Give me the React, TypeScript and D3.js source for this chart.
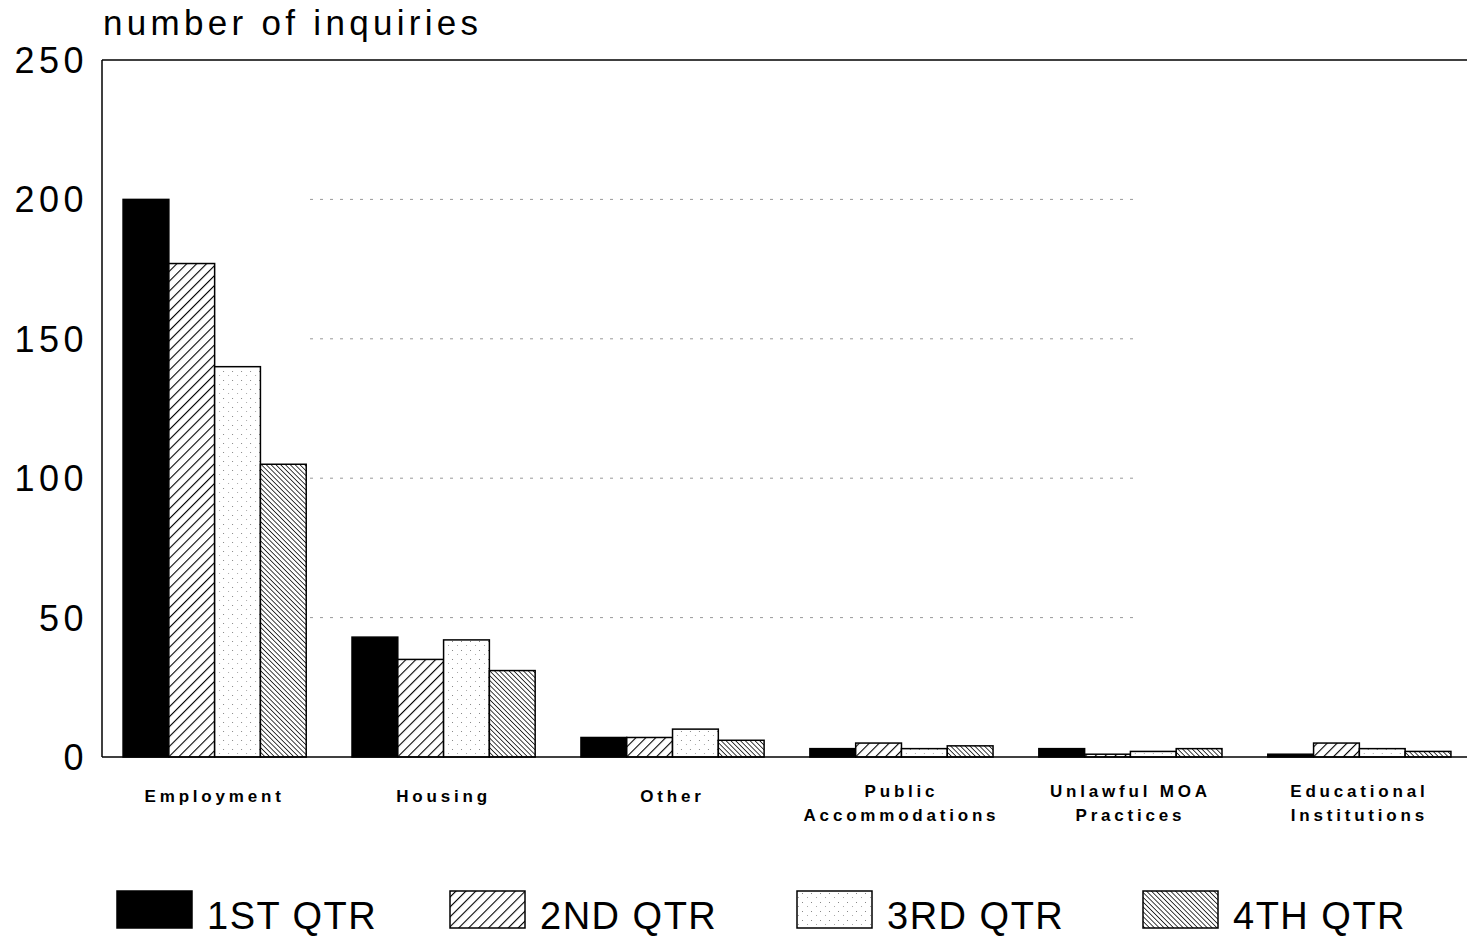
import React from "react";
import * as d3 from "d3";

const categories = [
  "Employment",
  "Housing",
  "Other",
  "Public Accommodations",
  "Unlawful MOA Practices",
  "Educational Institutions",
];
const categoryLines = [
  ["Employment"],
  ["Housing"],
  ["Other"],
  ["Public", "Accommodations"],
  ["Unlawful MOA", "Practices"],
  ["Educational", "Institutions"],
];
const seriesNames = ["1ST QTR", "2ND QTR", "3RD QTR", "4TH QTR"];
const q1 = [200, 43, 7, 3, 3, 1];
const q2 = [177, 35, 7, 5, 1, 5];
const q3 = [140, 42, 10, 3, 2, 3];
const q4 = [105, 31, 6, 4, 3, 2];
const yTicks = [0, 50, 100, 150, 200, 250];

const series = [q1, q2, q3, q4];
const fills = ["#000", "url(#hatchUp)", "url(#dots)", "url(#hatchDown)"];
// legend swatch left edges
const legendX = [117, 450, 797, 1143];

export default function App() {
  const W = 1467;
  const H = 937;
  const left = 102;
  const top = 60;
  const bottom = 757;

  const x = d3
    .scaleBand<string>()
    .domain(categories)
    .range([left, 1472])
    .paddingInner(0.2)
    .paddingOuter(0.092);
  const xs = d3
    .scaleBand<number>()
    .domain(d3.range(series.length))
    .range([0, x.bandwidth()]);
  const y = d3.scaleLinear().domain([0, 250]).range([bottom, top]);

  const font = "'Liberation Sans', Arial, Helvetica, sans-serif";

  return (
    <svg
      width={W}
      height={H}
      style={{ position: "absolute", left: 0, top: 0, background: "#fff" }}
    >
      <defs>
        <pattern id="hatchUp" width="7" height="7" patternUnits="userSpaceOnUse" patternTransform="rotate(45)">
          <rect width="7" height="7" fill="#fff" />
          <line x1="0" y1="0" x2="0" y2="7" stroke="#000" strokeWidth="2.2" />
        </pattern>
        <pattern id="hatchDown" width="3.4" height="3.4" patternUnits="userSpaceOnUse" patternTransform="rotate(-45)">
          <rect width="3.4" height="3.4" fill="#fff" />
          <line x1="0" y1="0" x2="0" y2="3.4" stroke="#000" strokeWidth="1.5" />
        </pattern>
        <pattern id="dots" width="9" height="9" patternUnits="userSpaceOnUse">
          <rect width="9" height="9" fill="#fff" />
          <rect x="1" y="2" width="1" height="1" fill="#888" />
          <rect x="6" y="6" width="1" height="1" fill="#aaa" />
        </pattern>
      </defs>

      {/* title */}
      <text x={103} y={35} fontFamily={font} fontSize={35} letterSpacing={4.3} fill="#000">
        number of inquiries
      </text>

      {/* grid */}
      {yTicks
        .filter((t) => t > 0 && t < 250)
        .map((t) => (
          <line
            key={"g" + t}
            x1={310}
            x2={1140}
            y1={y(t)}
            y2={y(t)}
            stroke="#999"
            strokeWidth={1}
            strokeDasharray="3,7"
          />
        ))}

      {/* y labels */}
      {yTicks.map((t) => (
        <text
          key={"y" + t}
          x={88}
          y={y(t) + 13}
          textAnchor="end"
          fontFamily={font}
          fontSize={36}
          letterSpacing={4.5}
          fill="#000"
        >
          {t}
        </text>
      ))}

      {/* bars */}
      {categories.map((c, i) => (
        <g key={c} transform={`translate(${x(c)},0)`}>
          {series.map((s, j) => (
            <rect
              key={j}
              x={xs(j)}
              y={y(s[i])}
              width={xs.bandwidth()}
              height={bottom - y(s[i])}
              fill={fills[j]}
              stroke="#000"
              strokeWidth={1.5}
            />
          ))}
        </g>
      ))}

      {/* axes frame */}
      <line x1={left} x2={left} y1={top} y2={bottom} stroke="#000" strokeWidth={1.5} />
      <line x1={left} x2={W} y1={top} y2={top} stroke="#000" strokeWidth={1.5} />
      <line x1={left} x2={W} y1={bottom} y2={bottom} stroke="#000" strokeWidth={1.5} />

      {/* category labels */}
      {categories.map((c, i) => {
        const lines = categoryLines[i];
        const cx = (x(c) as number) + x.bandwidth() / 2;
        const y0 = lines.length === 1 ? 802 : 797;
        return (
          <text
            key={"l" + c}
            x={cx}
            textAnchor="middle"
            fontFamily={font}
            fontWeight="bold"
            fontSize={17}
            letterSpacing={3.8}
            fill="#000"
          >
            {lines.map((l, k) => (
              <tspan key={k} x={cx} y={y0 + k * 24}>
                {l}
              </tspan>
            ))}
          </text>
        );
      })}

      {/* legend */}
      {seriesNames.map((n, j) => {
        const lx = legendX[j];
        return (
          <g key={n}>
            <rect x={lx} y={891} width={75} height={37} fill={fills[j]} stroke="#000" strokeWidth={1.5} />
            <text x={lx + 90} y={929} fontFamily={font} fontSize={38} letterSpacing={1.5} fill="#000">
              {n}
            </text>
          </g>
        );
      })}
    </svg>
  );
}
